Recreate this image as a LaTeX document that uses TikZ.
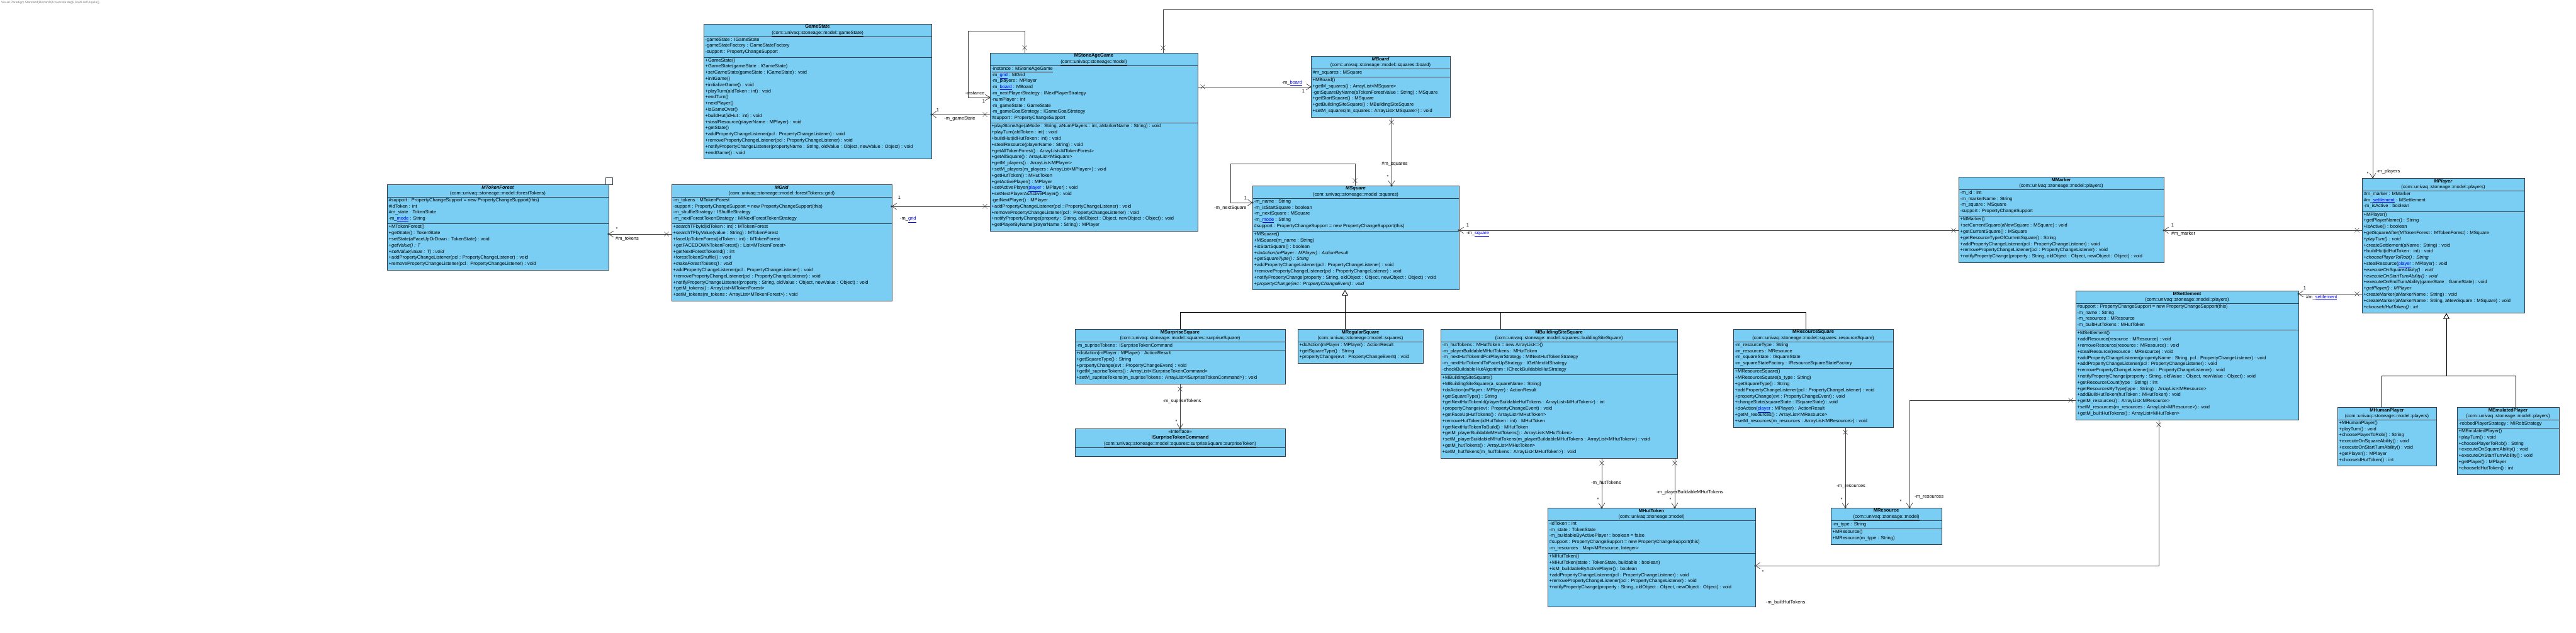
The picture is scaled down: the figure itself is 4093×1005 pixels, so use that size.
\documentclass[tikz,border=0pt]{standalone}
\usepackage{fontspec}
\setmainfont{Liberation Sans}
\usetikzlibrary{arrows.meta,calc}
\definecolor{classfill}{RGB}{122,206,243}
\definecolor{classline}{RGB}{52,62,72}
\definecolor{linkblue}{RGB}{0,0,238}
\definecolor{assocgray}{RGB}{64,64,64}
\newcommand{\rowfont}{\fontsize{7.5}{9.8}\selectfont}
\newcommand{\lk}[1]{\textcolor{linkblue}{\underline{#1}}}
\def\extraH{0}
\tikzset{
  classbox/.style={draw=classline, fill=classfill, line width=0.8pt, inner sep=0pt, outer sep=0pt},
  sepline/.style={draw=classline, line width=0.8pt},
  hdr/.style={font=\rowfont, align=center, inner sep=0pt, execute at begin node=\strut},
  rows/.style={font=\rowfont, align=left, inner sep=0pt, execute at begin node=\strut},
  assoc/.style={draw=assocgray, line width=0.7pt},
  nav/.style={-{Straight Barb[length=7pt,width=10pt]}},
  genl/.style={draw=black, line width=0.9pt},
  inh/.style={-{Triangle[open,length=9pt,width=10pt,fill=white]}},
  lbl/.style={font=\rowfont, inner sep=0pt},
  xmark/.pic={\draw[assocgray, line width=0.6pt] (-3.5,-3.5) -- (3.5,3.5) (-3.5,3.5) -- (3.5,-3.5);}
}
% #1 name, #2 x, #3 y, #4 width, #5 nAttr, #6 nMeth, #7 header, #8 attrs, #9 methods
\newcommand{\umlclass}[9]{%
  \pgfmathsetmacro{\ucA}{#3+20}%
  \pgfmathsetmacro{\ucB}{(#5>0) ? (\ucA+#5*9.8+3.5) : \ucA}%
  \pgfmathsetmacro{\ucH}{\ucB+#6*9.8+5+\extraH-#3}%
  \node[classbox, minimum width=#4pt, minimum height=\ucH pt, anchor=north west] (#1) at (#2,#3) {};%
  \node[hdr, anchor=north] at (#2+#4/2,#3+1.5) {#7};%
  \draw[sepline] (#2,\ucA) -- ++(#4,0);%
  \ifnum#5>0
    \node[rows, anchor=north west] at (#2+2.5,\ucA+1.6) {#8};%
    \draw[sepline] (#2,\ucB) -- ++(#4,0);%
  \fi
  \node[rows, anchor=north west] at (#2+2.5,\ucB+1.6) {#9};%
}
\newcommand{\navdot}[1]{\fill[assocgray] #1 circle[radius=1.8pt];}

\begin{document}
\begin{tikzpicture}[x=1pt,y=-1pt]
\fill[white] (0,0) rectangle (4093,1005);
\useasboundingbox (0,0) rectangle (4093,1005);

\node[anchor=north west, inner sep=0pt, text=gray, font=\fontsize{5}{6}\selectfont] (vp) at (2,2) {Visual Paradigm Standard(Riccardo(Universita degli Studi dell'Aquila))};

% ---------------- GameState
\umlclass{gs}{1118}{38}{362}{3}{16}
{\textbf{GameState}\\\underline{(com::univaq::stoneage::model::gameState)}}
{-gameState : IGameState\\
-gameStateFactory : GameStateFactory\\
-support : PropertyChangeSupport}
{+GameState()\\
+GameState(gameState : IGameState)\\
+setGameState(gameState : IGameState) : void\\
+initGame()\\
+initializeGame() : void\\
+playTurn(aIdToken : int) : void\\
+endTurn()\\
+nextPlayer()\\
+isGameOver()\\
+buildHut(idHut : int) : void\\
+stealResource(playerName : MPlayer) : void\\
+getState()\\
+addPropertyChangeListener(pcl : PropertyChangeListener) : void\\
+removePropertyChangeListener(pcl : PropertyChangeListener) : void\\
+notifyPropertyChangeListener(propertyName : String, oldValue : Object, newValue : Object) : void\\
+endGame() : void}

% ---------------- MStoneAgeGame
\umlclass{msag}{1573}{84}{330}{9}{17}
{\textbf{MStoneAgeGame}\\\underline{(com::univaq::stoneage::model)}}
{\underline{-instance : MStoneAgeGame}\\
-m\_\lk{grid} : MGrid\\
-m\_players : MPlayer\\
-m\_\lk{board} : MBoard\\
-m\_nextPlayerStrategy : INextPlayerStrategy\\
-numPlayer : int\\
-m\_gameState : GameState\\
-m\_gameGoalStrategy : IGameGoalStrategy\\
\#support : PropertyChangeSupport}
{+playStoneAge(aMode : String, aNumPlayers : int, aMarkerName : String) : void\\
+playTurn(aIdToken : int) : void\\
+buildHut(idHutToken : int) : void\\
+stealResource(playerName : String) : void\\
+getAllTokenForest() : ArrayList<MTokenForest>\\
+getAllSquare() : ArrayList<MSquare>\\
+getM\_players() : ArrayList<MPlayer>\\
+setM\_players(m\_players : ArrayList<MPlayer>) : void\\
+getHutToken() : MHutToken\\
+getActivePlayer() : MPlayer\\
+setActivePlayer(\lk{player} : MPlayer) : void\\
+setNextPlayerAsActivePlayer() : void\\
-getNextPlayer() : MPlayer\\
+addPropertyChangeListener(pcl : PropertyChangeListener) : void\\
+removePropertyChangeListener(pcl : PropertyChangeListener) : void\\
+notifyPropertyChange(property : String, oldObject : Object, newObject : Object) : void\\
+getPlayerByName(playerName : String) : MPlayer}

% ---------------- MBoard
\umlclass{mboard}{2083}{89}{221}{1}{6}
{\textbf{\textit{MBoard}}\\\underline{(com::univaq::stoneage::model::squares::board)}}
{\#m\_squares : MSquare}
{+MBoard()\\
+getM\_squares() : ArrayList<MSquare>\\
-getSquareByName(aTokenForestValue : String) : MSquare\\
+getStartSquare() : MSquare\\
+getBuildingSiteSquare() : MBuildingSiteSquare\\
+setM\_squares(m\_squares : ArrayList<MSquare>) : void}

% ---------------- MSquare
\umlclass{msquare}{1990}{295}{328}{5}{9}
{\textbf{\textit{MSquare}}\\\underline{(com::univaq::stoneage::model::squares)}}
{-m\_name : String\\
-m\_isStartSquare : boolean\\
-m\_nextSquare : MSquare\\
-m\_\lk{mode} : String\\
\#support : PropertyChangeSupport = new PropertyChangeSupport(this)}
{+MSquare()\\
+MSquare(m\_name : String)\\
+isStartSquare() : boolean\\
\textit{+doAction(mPlayer : MPlayer) : ActionResult}\\
\textit{+getSquareType() : String}\\
+addPropertyChangeListener(pcl : PropertyChangeListener) : void\\
+removePropertyChangeListener(pcl : PropertyChangeListener) : void\\
+notifyPropertyChange(property : String, oldObject : Object, newObject : Object) : void\\
\textit{+propertyChange(evt : PropertyChangeEvent) : void}}

% ---------------- MMarker
\umlclass{mmarker}{3112}{281}{326}{4}{7}
{\textbf{MMarker}\\\underline{(com::univaq::stoneage::model::players)}}
{-m\_id : int\\
-m\_markerName : String\\
-m\_square : MSquare\\
-support : PropertyChangeSupport}
{+MMarker()\\
+setCurrentSquare(aNewSquare : MSquare) : void\\
+getCurrentSquare() : MSquare\\
+getResourceTypeOfCurrentSquare() : String\\
+addPropertyChangeListener(pcl : PropertyChangeListener) : void\\
+removePropertyChangeListener(pcl : PropertyChangeListener) : void\\
+notifyPropertyChange(property : String, oldObject : Object, newObject : Object) : void}

% ---------------- MPlayer
\umlclass{mplayer}{3753}{283}{258}{3}{16}
{\textbf{\textit{MPlayer}}\\\underline{(com::univaq::stoneage::model::players)}}
{\#m\_marker : MMarker\\
\#m\_\lk{settlement} : MSettlement\\
-m\_isActive : boolean}
{+MPlayer()\\
+getPlayerName() : String\\
+isActive() : boolean\\
+getSquareAfter(MTokenForest : MTokenForest) : MSquare\\
\textit{+playTurn() : void}\\
+createSettlement(aName : String) : void\\
+buildHut(idHutToken : int) : void\\
\textit{+choosePlayerToRob() : String}\\
+stealResource(\lk{player} : MPlayer) : void\\
\textit{+executeOnSquareAbility() : void}\\
\textit{+executeOnStartTurnAbility() : void}\\
+executeOnEndTurnAbility(gameState : GameState) : void\\
\textit{+getPlayer() : MPlayer}\\
+createMarker(aMarkerName : String) : void\\
+createMarker(aMarkerName : String, aNewSquare : MSquare) : void\\
\textit{+chooseIdHutToken() : int}}

% ---------------- MTokenForest
\umlclass{mtf}{615}{293}{352}{4}{7}
{\textbf{\textit{MTokenForest}}\\\underline{(com::univaq::stoneage::model::forestTokens)}}
{\#support : PropertyChangeSupport = new PropertyChangeSupport(this)\\
\#idToken : int\\
\#m\_state : TokenState\\
-m\_\lk{mode} : String}
{+MTokenForest()\\
+getState() : TokenState\\
+setState(aFaceUpOrDown : TokenState) : void\\
\textit{+getValue() : T}\\
\textit{+setValue(value : T) : void}\\
+addPropertyChangeListener(pcl : PropertyChangeListener) : void\\
+removePropertyChangeListener(pcl : PropertyChangeListener) : void}
\node[draw=classline, fill=white, line width=0.6pt, minimum width=11pt, minimum height=11pt, inner sep=0pt] (tparam) at (968,288) {};

% ---------------- MGrid
\umlclass{mgrid}{1067}{293}{350}{4}{12}
{\textbf{\textit{MGrid}}\\\underline{(com::univaq::stoneage::model::forestTokens::grid)}}
{-m\_tokens : MTokenForest\\
-support : PropertyChangeSupport = new PropertyChangeSupport(this)\\
-m\_shuffleStrategy : IShuffleStrategy\\
-m\_nextForestTokenStrategy : MINextForestTokenStrategy}
{+searchTFbyId(idToken : int) : MTokenForest\\
+searchTFbyValue(value : String) : MTokenForest\\
+faceUpTokenForest(idToken : int) : MTokenForest\\
+getFACEDOWNTokenForest() : List<MTokenForest>\\
+getNextForestTokenId() : int\\
+forestTokenShuffle() : void\\
\textit{+makeForestTokens() : void}\\
+addPropertyChangeListener(pcl : PropertyChangeListener) : void\\
+removePropertyChangeListener(pcl : PropertyChangeListener) : void\\
+notifyPropertyChangeListener(property : String, oldValue : Object, newValue : Object) : void\\
+getM\_tokens() : ArrayList<MTokenForest>\\
+setM\_tokens(m\_tokens : ArrayList<MTokenForest>) : void}

% ---------------- MSurpriseSquare
\umlclass{msurp}{1708}{523}{334}{1}{5}
{\textbf{MSurpriseSquare}\\\underline{(com::univaq::stoneage::model::squares::surpriseSquare)}}
{-m\_supriseTokens : ISurpriseTokenCommand}
{+doAction(mPlayer : MPlayer) : ActionResult\\
+getSquareType() : String\\
+propertyChange(evt : PropertyChangeEvent) : void\\
+getM\_supriseTokens() : ArrayList<ISurpriseTokenCommand>\\
+setM\_supriseTokens(m\_supriseTokens : ArrayList<ISurpriseTokenCommand>) : void}

% ---------------- ISurpriseTokenCommand
\node[classbox, minimum width=334pt, minimum height=44pt, anchor=north west] (istc) at (1708,681) {};
\node[hdr, anchor=north] at (1875,682.5) {<<Interface>>\\\textbf{ISurpriseTokenCommand}\\\underline{(com::univaq::stoneage::model::squares::surpriseSquare::surpriseToken)}};
\draw[sepline] (1708,711) -- ++(334,0);

% ---------------- MRegularSquare
\umlclass{mreg}{2062}{523}{199}{0}{3}
{\textbf{MRegularSquare}\\\underline{(com::univaq::stoneage::model::squares)}}
{}
{+doAction(mPlayer : MPlayer) : ActionResult\\
+getSquareType() : String\\
+propertyChange(evt : PropertyChangeEvent) : void}

% ---------------- MBuildingSiteSquare
\umlclass{mbss}{2289}{523}{376}{5}{13}
{\textbf{MBuildingSiteSquare}\\\underline{(com::univaq::stoneage::model::squares::buildingSiteSquare)}}
{-m\_hutTokens : MHutToken = new ArrayList<>()\\
-m\_playerBuildableMHutTokens : MHutToken\\
-m\_nextHutTokenIdForPlayerStrategy : MINextHutTokenStrategy\\
-m\_nextHutTokenIdToFaceUpStrategy : IGetNextIdStrategy\\
-checkBuildableHutAlgorithm : ICheckBuildableHutStrategy}
{+MBuildingSiteSquare()\\
+MBuildingSiteSquare(a\_squareName : String)\\
+doAction(mPlayer : MPlayer) : ActionResult\\
+getSquareType() : String\\
+getNextHutTokenId(playerBuildableHutTokens : ArrayList<MHutToken>) : int\\
+propertyChange(evt : PropertyChangeEvent) : void\\
+getFaceUpHutTokens() : ArrayList<MHutToken>\\
+removeHutToken(idHutToken : int) : MHutToken\\
+getNextHutTokenToBuild() : MHutToken\\
+getM\_playerBuildableMHutTokens() : ArrayList<MHutToken>\\
+setM\_playerBuildableMHutTokens(m\_playerBuildableMHutTokens : ArrayList<MHutToken>) : void\\
+getM\_hutTokens() : ArrayList<MHutToken>\\
+setM\_hutTokens(m\_hutTokens : ArrayList<MHutToken>) : void}

% ---------------- MResourceSquare
\umlclass{mres}{2754}{523}{254}{4}{9}
{\textbf{MResourceSquare}\\\underline{(com::univaq::stoneage::model::squares::resourceSquare)}}
{-m\_resourceType : String\\
-m\_resources : MResource\\
-m\_squareState : ISquareState\\
-m\_squareStateFactory : IResourceSquareStateFactory}
{+MResourceSquare()\\
+MResourceSquare(a\_type : String)\\
+getSquareType() : String\\
+addPropertyChangeListener(pcl : PropertyChangeListener) : void\\
+propertyChange(evt : PropertyChangeEvent) : void\\
+changeState(squareState : ISquareState) : void\\
+doAction(\lk{player} : MPlayer) : ActionResult\\
+getM\_resources() : ArrayList<MResource>\\
+setM\_resources(m\_resources : ArrayList<MResource>) : void}

% ---------------- MHutToken
\def\extraH{21}
\umlclass{mhut}{2459}{807}{330}{5}{6}
{\textbf{MHutToken}\\\underline{(com::univaq::stoneage::model)}}
{-idToken : int\\
-m\_state : TokenState\\
-m\_buildableByActivePlayer : boolean = false\\
\#support : PropertyChangeSupport = new PropertyChangeSupport(this)\\
-m\_resources : Map<MResource, Integer>}
{+MHutToken()\\
+MHutToken(state : TokenState, buildable : boolean)\\
+isM\_buildableByActivePlayer() : boolean\\
+addPropertyChangeListener(pcl : PropertyChangeListener) : void\\
+removePropertyChangeListener(pcl : PropertyChangeListener) : void\\
+notifyPropertyChange(property : String, oldObject : Object, newObject : Object) : void}
\def\extraH{0}

% ---------------- MResource
\umlclass{mresource}{2909}{807}{176}{1}{2}
{\textbf{MResource}\\\underline{(com::univaq::stoneage::model)}}
{-m\_type : String}
{+MResource()\\
+MResource(m\_type : String)}

% ---------------- MSettlement
\umlclass{mset}{3298}{462}{354}{4}{14}
{\textbf{MSettlement}\\\underline{(com::univaq::stoneage::model::players)}}
{\#support : PropertyChangeSupport = new PropertyChangeSupport(this)\\
-m\_name : String\\
-m\_resources : MResource\\
-m\_builtHutTokens : MHutToken}
{+MSettlement()\\
+addResource(resource : MResource) : void\\
+removeResource(resource : MResource) : void\\
+stealResource(resource : MResource) : void\\
+addPropertyChangeListener(propertyName : String, pcl : PropertyChangeListener) : void\\
+addPropertyChangeListener(pcl : PropertyChangeListener) : void\\
+removePropertyChangeListener(pcl : PropertyChangeListener) : void\\
+notifyPropertyChange(property : String, oldValue : Object, newValue : Object) : void\\
+getResourceCount(type : String) : int\\
+getResourcesByType(type : String) : ArrayList<MResource>\\
+addBuiltHutToken(hutToken : MHutToken) : void\\
+getM\_resources() : ArrayList<MResource>\\
+setM\_resources(m\_resources : ArrayList<MResource>) : void\\
+getM\_builtHutTokens() : ArrayList<MHutToken>}

% ---------------- MHumanPlayer
\umlclass{mhuman}{3714}{647}{157}{0}{7}
{\textbf{MHumanPlayer}\\\underline{(com::univaq::stoneage::model::players)}}
{}
{+MHumanPlayer()\\
+playTurn() : void\\
+choosePlayerToRob() : String\\
+executeOnSquareAbility() : void\\
+executeOnStartTurnAbility() : void\\
+getPlayer() : MPlayer\\
+chooseIdHutToken() : int}

% ---------------- MEmulatedPlayer
\umlclass{memu}{3904}{647}{162}{1}{7}
{\textbf{MEmulatedPlayer}\\\underline{(com::univaq::stoneage::model::players)}}
{-robbedPlayerStrategy : MIRobStrategy}
{+MEmulatedPlayer()\\
+playTurn() : void\\
+choosePlayerToRob() : String\\
+executeOnSquareAbility() : void\\
+executeOnStartTurnAbility() : void\\
+getPlayer() : MPlayer\\
+chooseIdHutToken() : int}

% ================= connectors
% instance (self)
\draw[assoc,nav] (msag.north -| 1628,0) -- (1628,49) -- (1538,49) -- (1538,155) -- (msag.west |- 0,155);
\navdot{(msag.west |- 0,155)}
\pic at ($(msag.north -| 1628,0)+(0,-8)$) {xmark};
\node[lbl] (linst) at (1549,148) {-instance};
\node[lbl] (linst1) at (1563,161) {1};

% m_gameState
\draw[assoc,nav] (msag.west |- 0,182) -- (gs.east |- 0,182);
\navdot{(gs.east |- 0,182)}
\pic at ($(msag.west |- 0,182)+(-8,0)$) {xmark};
\node[lbl] (lgs) at (1525,189) {-m\_gameState};
\node[lbl] (lgs1) at (1490,175) {1};

% m_grid
\draw[assoc,nav] (msag.west |- 0,328) -- (mgrid.east |- 0,328);
\navdot{(mgrid.east |- 0,328)}
\pic at ($(msag.west |- 0,328)+(-8,0)$) {xmark};
\node[lbl] (lgrid1) at (1429,314) {1};
\node[lbl, anchor=west] (lgrid) at (1430,349) {-m\_\lk{grid}};

% m_board
\draw[assoc,nav] (msag.east |- 0,138) -- (mboard.west |- 0,138);
\navdot{(mboard.west |- 0,138)}
\pic at ($(msag.east |- 0,138)+(8,0)$) {xmark};
\node[lbl, anchor=east] (lboard) at (2069,132) {-m\_\lk{board}};
\node[lbl] (lboard1) at (2071,145) {1};

% m_players
\draw[assoc,nav] (msag.north -| 1848,0) -- (1848,15) -- (3770,15) -- (mplayer.north -| 3770,0);
\navdot{(mplayer.north -| 3770,0)}
\pic at ($(msag.north -| 1848,0)+(0,-8)$) {xmark};
\node[lbl, anchor=west] (lplayers) at (3776,273) {-m\_players};
\node[lbl] (lplayers1) at (3762,276) {*};

% m_tokens
\draw[assoc,nav] (mgrid.west |- 0,372) -- (mtf.east |- 0,372);
\navdot{(mtf.east |- 0,372)}
\pic at ($(mgrid.west |- 0,372)+(-8,0)$) {xmark};
\node[lbl] (ltok1) at (980,364) {*};
\node[lbl, anchor=west] (ltok) at (978,380) {\#m\_tokens};

% m_squares
\draw[assoc,nav] (mboard.south -| 2211,0) -- (msquare.north -| 2211,0);
\navdot{(msquare.north -| 2211,0)}
\pic at ($(mboard.south -| 2211,0)+(0,8)$) {xmark};
\node[lbl] (lsq) at (2216,261) {\#m\_squares};
\node[lbl] (lsq1) at (2205,281) {*};

% m_nextSquare (self)
\draw[assoc,nav] (msquare.north -| 2153,0) -- (2153,260) -- (1955,260) -- (1955,322) -- (msquare.west |- 0,322);
\navdot{(msquare.west |- 0,322)}
\pic at ($(msquare.north -| 2153,0)+(0,-8)$) {xmark};
\node[lbl] (lnext1) at (1979,315) {1};
\node[lbl] (lnext) at (1955,331) {-m\_nextSquare};

% m_square
\draw[assoc,nav] (mmarker.west |- 0,366) -- (msquare.east |- 0,366);
\navdot{(msquare.east |- 0,366)}
\pic at ($(mmarker.west |- 0,366)+(-8,0)$) {xmark};
\node[lbl] (lsquare1) at (2332,358) {1};
\node[lbl, anchor=west] (lsquare) at (2330,372) {-m\_\lk{square}};

% m_marker
\draw[assoc,nav] (mplayer.west |- 0,366) -- (mmarker.east |- 0,366);
\navdot{(mmarker.east |- 0,366)}
\pic at ($(mplayer.west |- 0,366)+(-8,0)$) {xmark};
\node[lbl] (lmark1) at (3452,358) {1};
\node[lbl, anchor=west] (lmark) at (3450,372) {\#m\_marker};

% m_settlement
\draw[assoc,nav] (mplayer.west |- 0,467) -- (mset.east |- 0,467);
\navdot{(mset.east |- 0,467)}
\pic at ($(mplayer.west |- 0,467)+(-8,0)$) {xmark};
\node[lbl] (lset1) at (3662,458) {1};
\node[lbl, anchor=west] (lset) at (3664,473) {\#m\_\lk{settlement}};

% m_resources (settlement)
\draw[assoc,nav] (mset.west |- 0,636) -- (3034,636) -- (mresource.north -| 3034,0);
\navdot{(mresource.north -| 3034,0)}
\pic at ($(mset.west |- 0,636)+(-8,0)$) {xmark};
\node[lbl] (lsr1) at (3020,797) {*};
\node[lbl, anchor=west] (lsr) at (3042,790) {-m\_resources};

% m_builtHutTokens
\draw[assoc,nav] (mset.south -| 3430,0) -- (3430,899) -- (mhut.east |- 0,899);
\navdot{(mhut.east |- 0,899)}
\pic at ($(mset.south -| 3430,0)+(0,8)$) {xmark};
\node[lbl] (lbh1) at (2801,909) {*};
\node[lbl, anchor=west] (lbh) at (2806,958) {-m\_builtHutTokens};

% m_supriseTokens
\draw[assoc,nav] (msurp.south -| 1875,0) -- (istc.north -| 1875,0);
\navdot{(istc.north -| 1875,0)}
\pic at ($(msurp.south -| 1875,0)+(0,8)$) {xmark};
\node[lbl] (lsup) at (1878,638) {-m\_supriseTokens};
\node[lbl] (lsup1) at (1869,670) {*};

% m_hutTokens
\draw[assoc,nav] (mbss.south -| 2545,0) -- (mhut.north -| 2545,0);
\navdot{(mhut.north -| 2545,0)}
\pic at ($(mbss.south -| 2545,0)+(0,8)$) {xmark};
\node[lbl] (lht) at (2552,768) {-m\_hutTokens};
\node[lbl] (lht1) at (2539,794) {*};

% m_playerBuildableMHutTokens
\draw[assoc,nav] (mbss.south -| 2661,0) -- (mhut.north -| 2661,0);
\navdot{(mhut.north -| 2661,0)}
\pic at ($(mbss.south -| 2661,0)+(0,8)$) {xmark};
\node[lbl] (lpb) at (2685,783) {-m\_playerBuildableMHutTokens};
\node[lbl] (lpb1) at (2654,794) {*};

% m_resources (resource square)
\draw[assoc,nav] (mres.south -| 2932,0) -- (mresource.north -| 2932,0);
\navdot{(mresource.north -| 2932,0)}
\pic at ($(mres.south -| 2932,0)+(0,8)$) {xmark};
\node[lbl] (lrr) at (2941,773) {-m\_resources};
\node[lbl] (lrr1) at (2926,794) {*};

% generalizations
\draw[genl] (msurp.north -| 1875,0) -- (1875,496) -- (2869,496) -- (mres.north -| 2869,0);
\draw[genl] (2384,496) -- (mbss.north -| 2384,0);
\draw[genl,inh] (mreg.north -| 2137,0) -- (msquare.south -| 2137,0);
\draw[genl,inh] (3887,597) -- (mplayer.south -| 3887,0);
\draw[genl] (mhuman.north -| 3784,0) -- (3784,597) -- (3997,597) -- (memu.north -| 3997,0);
\end{tikzpicture}
\end{document}
